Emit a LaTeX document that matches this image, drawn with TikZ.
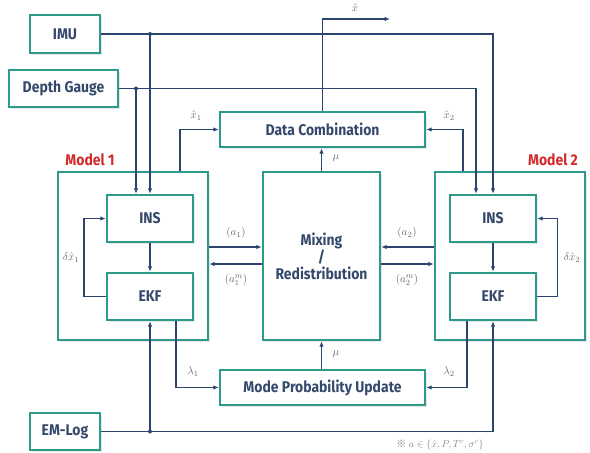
\documentclass[tikz,border=0pt]{standalone}
\usepackage{fontspec}
\setmainfont{Fira Sans}
\newfontfamily\boxfont[FakeStretch=0.9]{Fira Sans}
\newfontfamily\cjkfont{Noto Sans CJK SC}
\usetikzlibrary{arrows.meta,shadows,calc}
\definecolor{teal1}{HTML}{2E9A8A}
\definecolor{navy1}{HTML}{2A466E}
\definecolor{txt1}{HTML}{34496B}
\definecolor{red1}{HTML}{D22A2A}
\definecolor{lab1}{HTML}{6A6A6A}
\begin{document}
\begin{tikzpicture}[x=1pt,y=-1pt,
  blk/.style={draw=teal1, line width=2.4pt, fill=white, text=txt1,
    font=\boxfont\bfseries\fontsize{15.5}{17}\selectfont, inner sep=0pt, align=center,
    drop shadow={opacity=0.18, shadow xshift=1.5pt, shadow yshift=-1.5pt}},
  conn/.style={draw=navy1, line width=1.4pt, -{Latex[length=5.5pt,width=4.5pt]}},
  lab/.style={text=lab1, font=\fontsize{11}{13}\selectfont, inner sep=1pt},
  mlab/.style={text=red1, font=\boxfont\bfseries\fontsize{15.5}{17}\selectfont},
  jdot/.style={circle, fill=navy1, inner sep=0pt, minimum size=4pt}]
\useasboundingbox (0,0) rectangle (590,453);
\fill[white] (0,0) rectangle (590,453);

% outer model boxes first
\node[blk, minimum width=150pt, minimum height=168pt] (m1) at (133,256) {};
\node[blk, minimum width=150pt, minimum height=168pt] (m2) at (510,256) {};
\node[mlab] (m1l) at (90,160) {Model 1};
\node[mlab] (m2l) at (553,160) {Model 2};

\node[blk, minimum width=70pt, minimum height=38pt] (imu) at (65,34) {IMU};
\node[blk, minimum width=109pt, minimum height=37pt] (depth) at (63.5,88.5) {Depth Gauge};
\node[blk, minimum width=205pt, minimum height=35pt] (dc) at (322.5,129.5) {Data Combination};
\node[blk, minimum width=86pt, minimum height=47pt] (ins1) at (150,218.5) {INS};
\node[blk, minimum width=86pt, minimum height=47pt] (ekf1) at (150,296.5) {EKF};
\node[blk, minimum width=117pt, minimum height=168pt] (mix) at (321.5,256) {Mixing\\/\\Redistribution};
\node[blk, minimum width=86pt, minimum height=47pt] (ins2) at (493,218.5) {INS};
\node[blk, minimum width=86pt, minimum height=47pt] (ekf2) at (493,296.5) {EKF};
\node[blk, minimum width=205pt, minimum height=35pt] (mpu) at (322.5,387.5) {Mode Probability Update};
\node[blk, minimum width=70pt, minimum height=37pt] (emlog) at (65,431.5) {EM-Log};

% helper coordinates
\coordinate (i1d) at ([xshift=-14pt]ins1.north);
\coordinate (i2d) at ([xshift=-17pt]ins2.north);
\coordinate (x1s) at ([xshift=47pt]m1.north);
\coordinate (x2s) at ([xshift=-47pt]m2.north);
\coordinate (l1s) at ([xshift=26pt]ekf1.south);
\coordinate (l2s) at ([xshift=-26pt]ekf2.south);
\coordinate (out) at (390,19);

% sensor lines
\draw[conn] (imu.east) -| (ins2.north);
\draw[conn] (imu.east -| ins1.north) -- (ins1.north);
\node[jdot] (j1) at (imu.east -| ins1.north) {};
\draw[conn] (depth.east) -| (i2d);
\draw[conn] (depth.east -| i1d) -- (i1d);
\node[jdot] (j2) at (depth.east -| i1d) {};
\draw[conn] (emlog.east) -| (ekf2.south);
\draw[conn] (emlog.east -| ekf1.south) -- (ekf1.south);
\node[jdot] (j3) at (emlog.east -| ekf1.south) {};

% internal model connections
\draw[conn] (ins1) -- (ekf1);
\draw[conn] (ins2) -- (ekf2);
\draw[conn] (ekf1.west) -- ++(-22,0) |- (ins1.west);
\draw[conn] (ekf2.east) -- ++(20,0) |- (ins2.east);
\node[lab] (dx1) at (71,258) {$\delta\hat{x}_1$};
\node[lab] (dx2) at (572,258) {$\delta\hat{x}_2$};

% to data combination
\draw[conn] (x1s) |- (dc.west);
\draw[conn] (x2s) |- (dc.east);
\node[lab] (x1l) at (196,116) {$\hat{x}_1$};
\node[lab] (x2l) at (449,116) {$\hat{x}_2$};
\draw[conn] (dc.north) |- (out);
\node[lab] (xl) at (355,8) {$\hat{x}$};

% mixing
\draw[conn] (mix.north) -- (mix.north |- dc.south);
\node[lab] (mu1) at (336,158) {$\mu$};
\draw[conn] (mpu.north -| mix.south) -- (mix.south);
\node[lab] (mu2) at (336,354) {$\mu$};
\draw[conn] ([yshift=9pt]m1.east) -- ([yshift=9pt]mix.west);
\draw[conn] ([yshift=-8pt]mix.west) -- ([yshift=-8pt]m1.east);
\draw[conn] ([yshift=9pt]m2.west) -- ([yshift=9pt]mix.east);
\draw[conn] ([yshift=-8pt]mix.east) -- ([yshift=-8pt]m2.west);
\node[lab] (a1) at (236,233) {$(a_1)$};
\node[lab] (a1m) at (236,280) {$(a_1^m)$};
\node[lab] (a2) at (407,233) {$(a_2)$};
\node[lab] (a2m) at (407,280) {$(a_2^m)$};

% likelihoods
\draw[conn] (l1s) |- (mpu.west);
\draw[conn] (l2s) |- (mpu.east);
\node[lab] (lam1) at (193,372) {$\lambda_1$};
\node[lab] (lam2) at (449,372) {$\lambda_2$};

% footnote
\node[text=lab1!80, font=\fontsize{10}{12}\selectfont, inner sep=0pt] (fn) at (440,445) {{\cjkfont ※}\ $a\in\{\hat{x},P,T^c,\sigma^c\}$};
\end{tikzpicture}
\end{document}
